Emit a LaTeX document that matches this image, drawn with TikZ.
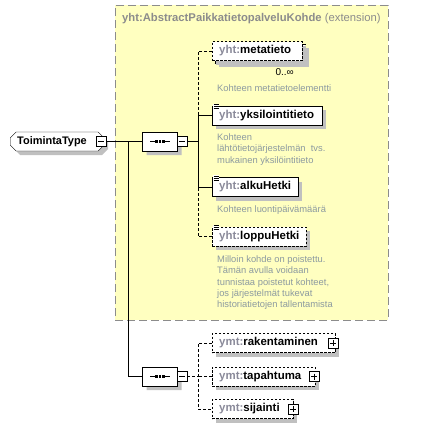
\documentclass[tikz,border=0pt]{standalone}
\usepackage{fontspec}
\setmainfont{Liberation Sans}
\usetikzlibrary{positioning,shapes.misc,shadows}
\definecolor{extyellow}{HTML}{FFFFC0}
\definecolor{extline}{HTML}{8C8C8C}
\definecolor{pfxgray}{HTML}{8A8A9A}
\definecolor{docgray}{HTML}{8C9AA0}
\definecolor{shadowgray}{HTML}{C0C0C0}
\newcommand{\elname}[2]{{\color{pfxgray}#1:}#2}

\begin{document}
\begin{tikzpicture}[x=1bp, y=-1bp, font=\fontsize{11.3}{13}\selectfont,
  shd/.style={drop shadow={shadow xshift=4bp, shadow yshift=-4bp, fill=shadowgray, opacity=1}},
  el/.style={draw, fill=white, shd, anchor=west, minimum height=19bp, inner xsep=7bp, inner ysep=0pt,
             align=left, font=\fontsize{11.5}{13}\selectfont\bfseries},
  opt/.style={el, dash pattern=on 2.5bp off 1.5bp},
  ctype/.style={draw, fill=white, shd, chamfered rectangle, chamfered rectangle xsep=3bp, chamfered rectangle ysep=3bp,
                anchor=west, minimum height=19bp, inner xsep=4bp, inner ysep=0pt, align=left,
                font=\fontsize{11}{13}\selectfont\bfseries},
  seq/.style={draw, fill=white, shd, chamfered rectangle, chamfered rectangle xsep=6bp, chamfered rectangle ysep=6bp,
              minimum width=35bp, minimum height=19bp, inner sep=0pt,
              path picture={
                \draw ([xshift=-10bp]path picture bounding box.center) -- ([xshift=-5.4bp]path picture bounding box.center);
                \draw ([xshift=5.4bp]path picture bounding box.center) -- ([xshift=10bp]path picture bounding box.center);
                \foreach \dx in {-3.6,0,3.6} \fill[black] ([xshift=\dx bp]path picture bounding box.center) +(-1.3,-1.3) rectangle +(1.3,1.3);}},
  boxminus/.style={draw, fill=white, minimum size=10bp, inner sep=0pt,
              path picture={\draw ([xshift=2bp]path picture bounding box.west) -- ([xshift=-2bp]path picture bounding box.east);}},
  boxplus/.style={draw, fill=white, minimum size=10bp, inner sep=0pt,
              path picture={\draw ([xshift=2bp]path picture bounding box.west) -- ([xshift=-2bp]path picture bounding box.east);
                \draw ([yshift=-2bp]path picture bounding box.north) -- ([yshift=2bp]path picture bounding box.south);}},
  doc/.style={anchor=north west, text=docgray, align=left, font=\fontsize{9.4}{11.3}\selectfont, inner sep=0pt},
  ext/.style={draw=extline, fill=extyellow, dash pattern=on 8bp off 4bp, anchor=north west, inner sep=0pt},
  link/.style={thin},
  dlink/.style={thin, dash pattern=on 3bp off 2bp}]
\useasboundingbox (0,0) rectangle (431,429);

% ---------------- extension box
\node[ext, minimum width=273bp, minimum height=315bp] (ext) at (115,5) {};
\node[anchor=west, text=extline, inner sep=0pt] (exttitle) at (122,19) {\textbf{yht:AbstractPaikkatietopalveluKohde} (extension)};

% ---------------- type and sequences
\node[ctype, text width=80bp] (toim) at (10,141.5) {ToimintaType};
\node[boxminus] (toimm) at (101,141.5) {};
\node[seq] (seq1) at (160,141.5) {};
\node[boxminus] (seq1m) at (182,141.5) {};
\node[seq] (seq2) at (160,376.5) {};
\node[boxminus] (seq2m) at (182,376.5) {};

% ---------------- inherited elements
\node[opt, text width=76bp] (metastk) at (214.5,53.5) {};
\node[opt, text width=76bp] (meta) at (212,51) {\elname{yht}{metatieto}};
\node[anchor=east, inner sep=0pt, font=\fontsize{10}{12}\selectfont] (metaocc) at (294,72) {0..∞};
\node[doc] (metadoc) at (217,84.5) {Kohteen metatietoelementti};
\node[el, text width=96bp] (yksi) at (212,115.5) {\elname{yht}{yksilointitieto}};
\node[doc] (yksidoc) at (217,133.5) {Kohteen\\lähtötietojärjestelmän\ \ tvs.\\mukainen yksilöintitieto};
\node[el, text width=72bp] (alku) at (212,187) {\elname{yht}{alkuHetki}};
\node[doc] (alkudoc) at (217,205.5) {Kohteen luontipäivämäärä};
\node[opt, text width=80bp] (loppu) at (212,236.5) {\elname{yht}{loppuHetki}};
\node[doc] (loppudoc) at (217,255.5) {Milloin kohde on poistettu.\\Tämän avulla voidaan\\tunnistaa poistetut kohteet,\\jos järjestelmät tukevat\\historiatietojen tallentamista};

% simple content marks
\foreach \n in {yksi,alku,loppu} {
  \fill[white] ([shift={(1,-2)}]\n.north west) rectangle ++(6,5);
  \foreach \dy in {-1,1,3}
    \draw[line width=0.7bp] ([shift={(1.5,\dy)}]\n.north west) -- ++(5,0);
}

% ---------------- own elements
\node[opt, text width=109bp] (rak) at (212,343) {\elname{ymt}{rakentaminen}};
\node[boxplus] (rakp) at ([xshift=-2bp]rak.east) {};
\node[opt, text width=89bp] (tap) at (212,376.5) {\elname{ymt}{tapahtuma}};
\node[boxplus] (tapp) at ([xshift=-1bp]tap.east) {};
\node[opt, text width=67bp] (sij) at (212,409) {\elname{ymt}{sijainti}};
\node[boxplus] (sijp) at ([xshift=0bp]sij.east) {};

% ---------------- connectors
\coordinate (j0) at (128,141.5);
\coordinate (j1) at (198,141.5);
\coordinate (j2) at (198,376.5);
\draw[link] (toimm.east) -- (seq1.west);
\draw[link] (j0) |- (seq2.west);
\draw[link] (seq1m.east) -- (j1);
\draw[dlink] (meta.west) -| (yksi.west -| j1);
\draw[link] (yksi.west) -| (alku.west -| j1) -- (alku.west);
\draw[dlink] (loppu.west) -| (alku.west -| j1);
\draw[dlink] (seq2m.east) -- (j2);
\draw[dlink] (rak.west) -| (sij.west -| j2) -- (sij.west);
\draw[dlink] (tap.west) -- (j2);
\end{tikzpicture}
\end{document}
